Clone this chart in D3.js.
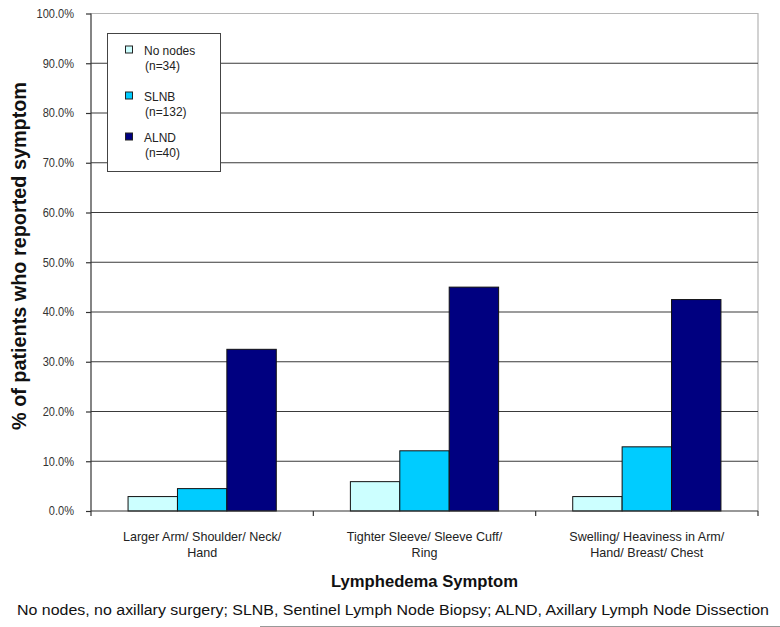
<!DOCTYPE html>
<html><head><meta charset="utf-8">
<script src="https://cdn.jsdelivr.net/npm/d3@7"></script>
<style>body{margin:0;background:#fff}svg{display:block}</style>
</head><body>
<svg id="c" width="780" height="627"></svg>
<script>
const categories = [["Larger Arm/ Shoulder/ Neck/","Hand"],["Tighter Sleeve/ Sleeve Cuff/","Ring"],["Swelling/ Heaviness in Arm/","Hand/ Breast/ Chest"]];
const seriesNames = ["No nodes","SLNB","ALND"];
const seriesN = ["(n=34)","(n=132)","(n=40)"];
const noNodes = [2.9, 5.9, 2.9];
const slnb = [4.5, 12.1, 12.9];
const alnd = [32.5, 45.0, 42.5];
const yTicks = [0,10,20,30,40,50,60,70,80,90,100];
const colors = ["#CCFFFF","#00CCFF","#000080"];
const series = [noNodes, slnb, alnd];

const svg = d3.select("#c");
const L=91, R=758, T=13.5, B=511;
const x0 = d3.scaleBand().domain(d3.range(categories.length)).range([L,R]).paddingInner(0).paddingOuter(0);
const x1 = d3.scaleBand().domain(d3.range(series.length)).range([0,x0.bandwidth()]).paddingOuter(0.75).paddingInner(0);
const y = d3.scaleLinear().domain([0,100]).range([B,T]);

function narrow(sel, f){ sel.each(function(){ const w=this.getComputedTextLength(); d3.select(this).attr("textLength",w*f).attr("lengthAdjust","spacingAndGlyphs"); }); }

svg.append("path").attr("d",`M${L},${T}H${R}V${B}`).attr("fill","none").attr("stroke","#b5b5b5").attr("stroke-width",1.2);
svg.append("g").selectAll("line").data(yTicks.filter(d=>d>0&&d<100)).join("line")
  .attr("x1",L).attr("x2",R).attr("y1",d=>y(d)).attr("y2",d=>y(d))
  .attr("stroke","#3a3a3a").attr("stroke-width",1.2);

const g = svg.append("g");
series.forEach((s,si)=>{
  g.selectAll(null).data(s).join("rect")
   .attr("x",(d,i)=>x0(i)+x1(si)).attr("width",x1.bandwidth())
   .attr("y",d=>y(d)).attr("height",d=>B-y(d))
   .attr("fill",colors[si]).attr("stroke","#111").attr("stroke-width",1);
});

const ya = svg.append("g").attr("transform",`translate(${L},0)`)
  .call(d3.axisLeft(y).tickValues(yTicks).tickSize(5).tickPadding(10).tickFormat(d=>d.toFixed(1)+"%"));
ya.select(".domain").attr("stroke","#333").attr("stroke-width",1.2).attr("d",`M-0,${T}V${B}`);
ya.selectAll(".tick line").attr("stroke","#333").attr("stroke-width",1.2);
ya.selectAll("text").attr("font-family","Liberation Sans, Arial, sans-serif").attr("font-size",12).attr("fill","#333").attr("dx",-2);
narrow(ya.selectAll("text"), 0.92);

const xa = svg.append("g").attr("transform",`translate(0,${B})`);
xa.append("line").attr("x1",L).attr("x2",R).attr("y1",0).attr("y2",0).attr("stroke","#333").attr("stroke-width",1.2);
xa.selectAll("line.t").data(d3.range(categories.length+1)).join("line").attr("class","t")
  .attr("x1",i=>L+i*x0.bandwidth()).attr("x2",i=>L+i*x0.bandwidth()).attr("y1",0).attr("y2",5)
  .attr("stroke","#333").attr("stroke-width",1.2);
categories.forEach((c,i)=>{
  c.forEach((line,k)=>{
    xa.append("text").attr("class","cl").attr("x",x0(i)+x0.bandwidth()/2).attr("y",30+k*16)
      .attr("text-anchor","middle").attr("font-family","Liberation Sans, Arial, sans-serif")
      .attr("font-size",13.5).attr("fill","#222").text(line);
  });
});
narrow(xa.selectAll("text.cl"), 0.93);

svg.append("text").attr("transform",`translate(26,256) rotate(-90)`).attr("text-anchor","middle")
  .attr("font-family","Liberation Sans, Arial, sans-serif").attr("font-weight","bold").attr("font-size",20).attr("fill","#111")
  .attr("textLength",348).attr("lengthAdjust","spacingAndGlyphs")
  .text("% of patients who reported symptom");
svg.append("text").attr("x",(L+R)/2).attr("y",587).attr("text-anchor","middle")
  .attr("font-family","Liberation Sans, Arial, sans-serif").attr("font-weight","bold").attr("font-size",17).attr("fill","#111")
  .attr("textLength",187).attr("lengthAdjust","spacingAndGlyphs")
  .text("Lymphedema Symptom");
svg.append("text").attr("x",393).attr("y",615).attr("text-anchor","middle")
  .attr("font-family","Liberation Sans, Arial, sans-serif").attr("font-size",15.5).attr("fill","#111")
  .attr("textLength",752).attr("lengthAdjust","spacingAndGlyphs")
  .text("No nodes, no axillary surgery; SLNB, Sentinel Lymph Node Biopsy; ALND, Axillary Lymph Node Dissection");
svg.append("line").attr("x1",260).attr("x2",780).attr("y1",626.5).attr("y2",626.5).attr("stroke","#999").attr("stroke-width",1);

const lg = svg.append("g");
lg.append("rect").attr("x",107.5).attr("y",33.5).attr("width",113).attr("height",138).attr("fill","#fff").attr("stroke","#444").attr("stroke-width",1);
const ly = [46,92,133];
seriesNames.forEach((n,i)=>{
  lg.append("rect").attr("x",125.5).attr("y",ly[i]).attr("width",7).attr("height",7).attr("fill",colors[i]).attr("stroke","#222").attr("stroke-width",1);
  lg.append("text").attr("x",144).attr("y",ly[i]+9).attr("font-family","Liberation Sans, Arial, sans-serif").attr("font-size",13).attr("fill","#222").attr("class","lt").text(n);
  lg.append("text").attr("x",145).attr("y",ly[i]+24).attr("font-family","Liberation Sans, Arial, sans-serif").attr("font-size",13).attr("fill","#222").attr("class","lt").text(seriesN[i]);
});
narrow(lg.selectAll("text.lt"), 0.92);
</script>
</body></html>
